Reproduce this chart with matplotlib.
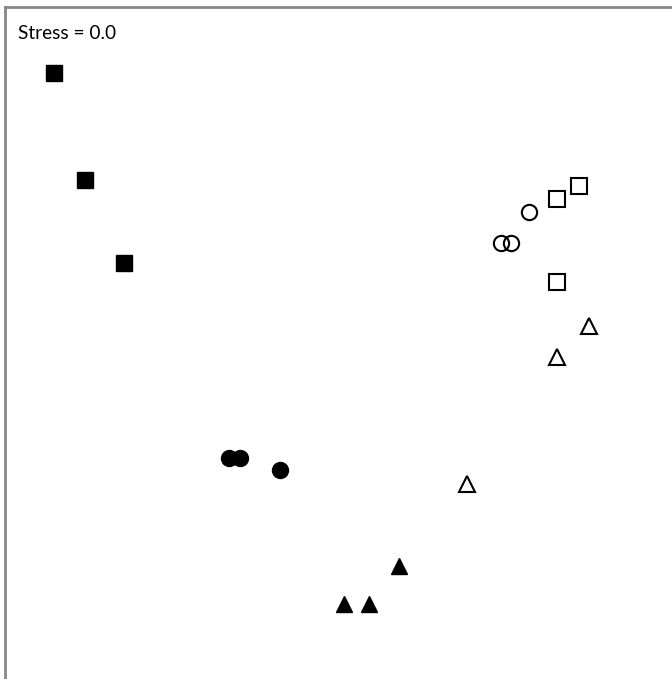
import matplotlib
matplotlib.use("Agg")
import matplotlib.pyplot as plt

# NMDS ordination coordinates (screen-like units)
filled_sq_x = [54, 85, 124]
filled_sq_y = [73, 180, 263]
open_sq_x = [579, 557, 557]
open_sq_y = [186, 199, 282]
open_ci_x = [529, 501, 511]
open_ci_y = [212, 243, 243]
open_tri_x = [589, 557, 467]
open_tri_y = [326, 357, 484]
filled_ci_x = [229, 240, 280]
filled_ci_y = [458, 458, 470]
filled_tri_x = [399, 344, 369]
filled_tri_y = [566, 604, 604]
stress_label = "Stress = 0.0"

fig = plt.figure(figsize=(6.72, 6.79), dpi=100)
ax = fig.add_axes([5/672, 0, 667/672, 672/679])
ax.set_xlim(5, 672)
ax.set_ylim(679, 7)

ms = 11
ax.plot(filled_sq_x, filled_sq_y, 's', ms=ms + 1, color='black', mec='black', ls='none')
ax.plot(open_sq_x, open_sq_y, 's', ms=ms, mfc='white', mec='black', mew=1.5, ls='none')
ax.plot(open_ci_x, open_ci_y, 'o', ms=ms, mfc='none', mec='black', mew=1.5, ls='none')
ax.plot(open_tri_x, open_tri_y, '^', ms=ms, mfc='white', mec='black', mew=1.5, ls='none')
ax.plot(filled_ci_x, filled_ci_y, 'o', ms=ms + 0.5, color='black', ls='none')
ax.plot(filled_tri_x, filled_tri_y, '^', ms=ms + 1, color='black', ls='none')

ax.text(18, 33, stress_label, fontsize=13.8, family='Lato', va='center', ha='left')

ax.set_xticks([])
ax.set_yticks([])
for side in ['right', 'bottom']:
    ax.spines[side].set_visible(False)
for side in ['top', 'left']:
    ax.spines[side].set_color('#888888')
    ax.spines[side].set_linewidth(2)

fig.savefig("out.png", dpi=100)
